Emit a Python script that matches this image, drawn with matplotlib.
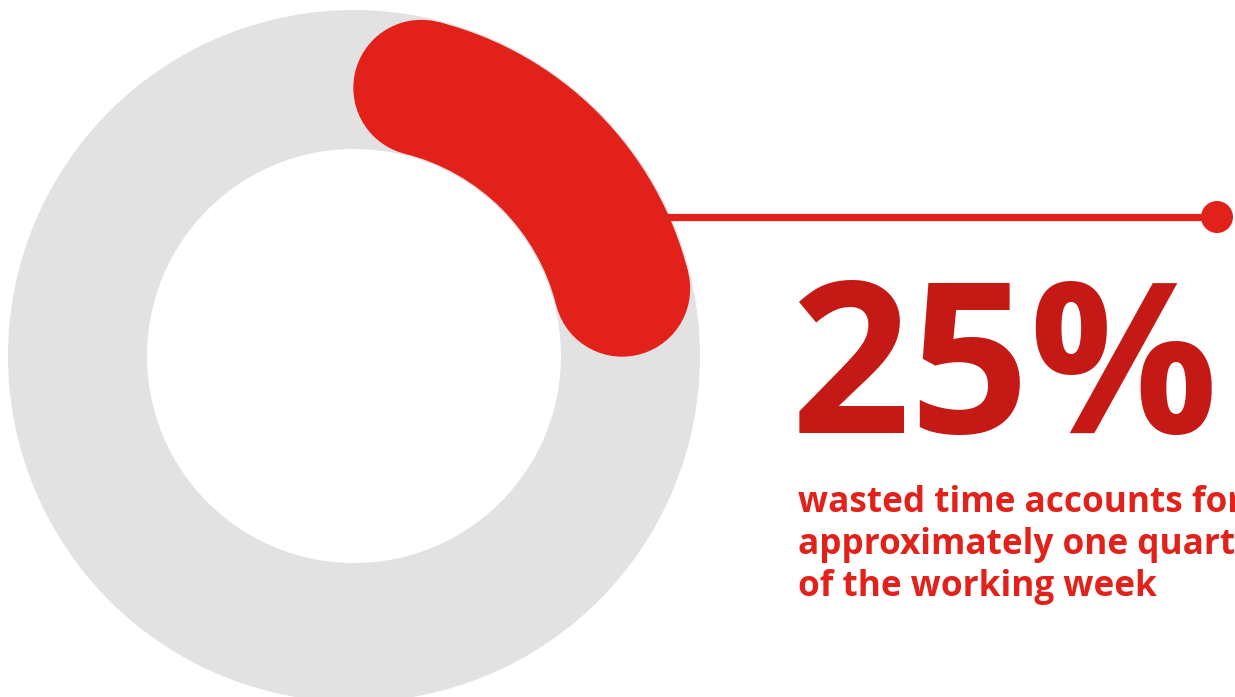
import numpy as np
import matplotlib
matplotlib.use("Agg")
import matplotlib.pyplot as plt
from matplotlib.patches import Wedge, Circle

# ---- data ----
share_pct = 25
headline = "25%"
caption_lines = ["wasted time accounts for",
                 "approximately one quarter",
                 "of the working week"]

# ---- styles ----
GRAY = "#E3E2E3"
RED = "#E2211A"
DARK_RED = "#C41915"
FONT = ["Open Sans", "DejaVu Sans"]

W, H = 1235, 697
fig = plt.figure(figsize=(W / 100, H / 100), dpi=100)
ax = fig.add_axes([0, 0, 1, 1])
ax.set_xlim(0, W)
ax.set_ylim(0, H)
ax.set_aspect("equal")
ax.axis("off")

cx, cy = 354, H - 356
r_out, ring_w = 346, 139
r_mid = r_out - ring_w / 2
arc_w = 136

# background ring
ax.add_patch(Wedge((cx, cy), r_out, 0, 360, width=ring_w, facecolor=GRAY, edgecolor="none"))

# value arc (clockwise from 12 o'clock), round caps included in the span
span = 360 * share_pct / 100
cap = np.degrees((arc_w / 2) / r_mid)
a_start = 90 - cap              # math angle of first cap centre
a_end = 90 - span + cap          # math angle of last cap centre
ax.add_patch(Wedge((cx, cy), r_mid + arc_w / 2, a_end, a_start, width=arc_w,
                   facecolor=RED, edgecolor="none"))
for a in (a_start, a_end):
    t = np.radians(a)
    ax.add_patch(Circle((cx + r_mid * np.cos(t), cy + r_mid * np.sin(t)), arc_w / 2,
                        facecolor=RED, edgecolor="none"))

# leader line with dot
ly = H - 217
ax.plot([640, 1217], [ly, ly], color=RED, lw=5.2, solid_capstyle="butt", zorder=1)
ax.add_patch(Circle((1217, ly), 16, facecolor=RED, edgecolor="none", zorder=2))

# headline
ax.text(790, H - 433, headline, fontsize=151, fontweight="bold", color=DARK_RED,
        family=FONT, ha="left", va="baseline")

# caption (clipped by the right edge, as in the original)
for i, line in enumerate(caption_lines):
    ax.text(798, H - 512 - i * 42, line, fontsize=25.3, fontweight="bold", color=RED,
            family=FONT, ha="left", va="baseline")

fig.savefig("out.png", dpi=100)
